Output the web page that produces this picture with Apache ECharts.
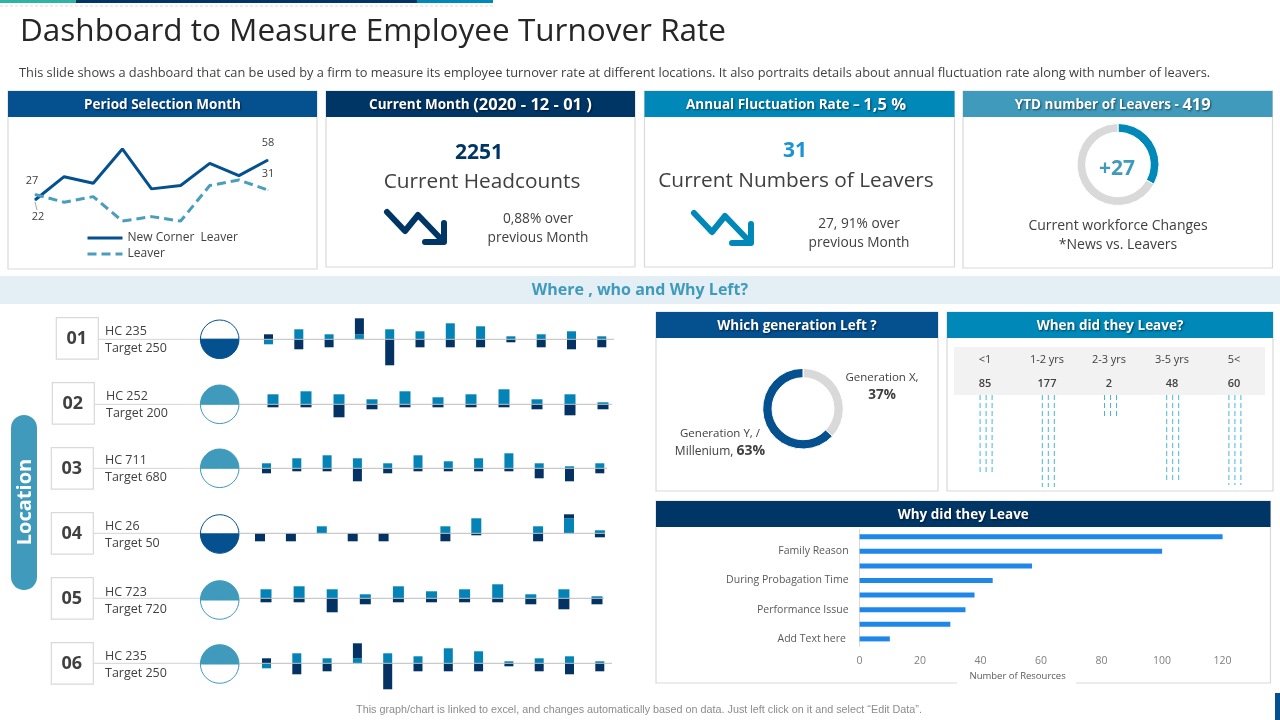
<!DOCTYPE html>
<html>
<head>
<meta charset="utf-8">
<style>
  html, body { margin: 0; padding: 0; background: #fff; }
  #main { width: 1280px; height: 720px; }
</style>
<script src="https://cdn.jsdelivr.net/npm/echarts@6/dist/echarts.min.js"></script>
</head>
<body>
<div id="main"></div>
<script>
// period line chart
const periodMonths = ['1', '2', '3', '4', '5', '6', '7', '8', '9'];
const newCornerLeaver = [22, 43, 37, 68, 32, 35, 55, 44, 58];
const leaver = [27, 20, 25, 3, 7, 3, 35, 40, 31];

// location rows, light = upper series, dark = lower series
const row1Light = [-5, 10, 5, 5, 10, 8, 16, 13, 3, 5, 8, 3];
const row1Dark = [5, -10, -8, 16, -26, -8, -8, -8, -3, -8, -10, -8];
const row2Light = [10, 13, 10, 5, 13, 7, 10, 15, 5, 10, 2];
const row2Dark = [-3, -3, -13, -5, -3, -3, -3, -3, -5, -11, -5];
const row3Light = [5, 10, 13, 10, 5, 13, 7, 10, 15, 5, 2, 5];
const row3Dark = [-5, -3, -3, -13, -5, -3, -3, -3, -3, -10, -13, -5];
const row4Light = [0, 0, 7, 0, 0, 0, 7, 15, 0, 7, 15, 3];
const row4Dark = [-8, -8, 0, -8, -8, 0, -8, -2, 0, -8, 4, -4];
const row5Light = [9, 12, 9, 4, 12, 7, 9, 14, 4, 9, 2];
const row5Dark = [-4, -4, -14, -6, -4, -4, -4, -4, -6, -11, -6];
const row6Light = [-5, 10, 5, 5, 10, 7, 15, 12, 2, 5, 7, 2];
const row6Dark = [5, -11, -8, 15, -26, -8, -8, -8, -3, -8, -11, -8];

const rowIds = ['01', '02', '03', '04', '05', '06'];
const rowHc = ['HC 235', 'HC 252', 'HC 711', 'HC 26', 'HC 723', 'HC 235'];
const rowTarget = ['Target 250', 'Target 200', 'Target 680', 'Target 50', 'Target 720', 'Target 250'];

// generation / ytd donuts
const genNames = ['Generation X', 'Generation Y, / Millenium'];
const genValues = [37, 63];
const ytdNames = ['Changes', 'Rest'];
const ytdValues = [33, 67];

// when did they leave
const whenCats = ['<1', '1-2 yrs', '2-3 yrs', '3-5 yrs', '5<'];
const whenCounts = ['85', '177', '2', '48', '60'];
const whenDepth = [77, 92, 23, 87, 90];

// why did they leave
const whyCats = ['', 'Family Reason', '', 'During Probagation Time', '', 'Performance Issue', '', 'Add Text here '];
const whyValues = [120, 100, 57, 44, 38, 35, 30, 10];

const FONT = '"Open Sans", "Noto Sans", sans-serif';
const C = { navy: '#003666', blue: '#05508F', cyan: '#0088B8', teal: '#3F9ABB', text: '#404040', border: '#D9D9D9' };

function txt(text, x, y, size, fill, weight, align, extra) {
  return {
    type: 'text', silent: true,
    style: Object.assign({
      text: text, x: x, y: y + 1.5, fontSize: size, fontFamily: FONT, fill: fill || C.text,
      fontWeight: weight || 'normal', textAlign: align || 'center', textVerticalAlign: 'middle'
    }, extra || {})
  };
}
function rect(x, y, w, h, fill, stroke, r) {
  return {
    type: 'rect', silent: true, shape: { x: x, y: y, width: w, height: h, r: r || 0 },
    style: { fill: fill || 'none', stroke: stroke || 'none', lineWidth: stroke ? 1.2 : 0 }
  };
}
function line(x1, y1, x2, y2, color, z) {
  return {
    type: 'line', silent: true, z: z || 0, shape: { x1: x1, y1: y1, x2: x2, y2: y2 },
    style: { stroke: color, lineWidth: 1 }
  };
}
const headShadow = { textShadowColor: 'rgba(0,0,0,0.55)', textShadowBlur: 2, textShadowOffsetX: 1, textShadowOffsetY: 1 };
const headRich = {
  a: { fontSize: 13.5, fontWeight: 'bold', fontFamily: FONT, fill: '#fff' },
  b: { fontSize: 16.5, fontWeight: 'bold', fontFamily: FONT, fill: '#fff' }
};
function panel(x, y, w, h, color, title, rich, shift) {
  const head = txt(title, x + w / 2 + (shift || 0), y + 12.5, 13.5, '#fff', 'bold', 'center', headShadow);
  if (rich) head.style.rich = rich;
  return [rect(x, y, w, h, '#fff', C.border), rect(x, y, w, 26, color), head];
}
function arrow(dx, dy, color) {
  const st = { fill: 'none', stroke: color, lineWidth: 6, lineCap: 'round', lineJoin: 'round' };
  return [
    { type: 'polyline', silent: true, shape: { points: [[387 + dx, 212 + dy], [405 + dx, 231 + dy], [418 + dx, 215 + dy], [442 + dx, 240 + dy]] }, style: st },
    { type: 'polyline', silent: true, shape: { points: [[425 + dx, 242 + dy], [444 + dx, 242 + dy], [444 + dx, 223 + dy]] }, style: st }
  ];
}

let g = [];
// top strips
g.push(rect(0, 0, 76, 3, '#2FB3A3'), rect(76, 0, 341, 3, C.navy), rect(417, 0, 76, 3, C.cyan));
g.push({ type: 'line', silent: true, shape: { x1: 0, y1: 6, x2: 493, y2: 6 }, style: { stroke: '#DDD', lineWidth: 1, lineDash: [3, 2] } });
g.push(txt('Dashboard to Measure Employee Turnover Rate', 20, 30.5, 31.5, '#262626', 'normal', 'left'));
g.push(txt('This slide shows a dashboard that can be used by a firm to measure its employee turnover rate at different locations. It also portraits details about annual fluctuation rate along with number of leavers.', 19, 72, 12.8, C.text, 'normal', 'left'));

// top panels
g.push(...panel(8, 91, 309, 178, C.blue, 'Period Selection Month'));
g.push(...panel(326, 91, 309, 176, C.navy, '{a|Current Month }{b|(2020 - 12 - 01 )}', headRich));
g.push(...panel(644.5, 91, 310, 176, C.cyan, '{a|Annual Fluctuation Rate – }{b|1,5 %}', headRich, -3.5));
g.push(...panel(963, 91, 309.5, 177, C.teal, '{a|YTD number of Leavers - }{b|419}', headRich, -5));

g.push(line(35, 202, 37, 210, '#A6A6A6'));
g.push(txt('2251', 479, 152, 21, C.navy, 'bold'));
g.push(txt('Current Headcounts', 482, 180.5, 20.8));
g.push(...arrow(0, 0, C.navy));
g.push(txt('0,88% over', 538, 218, 13.7));
g.push(txt('previous Month', 538, 237, 13.7));
g.push(txt('31', 795, 149.5, 21, '#1A94D0', 'bold'));
g.push(txt('Current Numbers of Leavers', 796, 180, 20.8));
g.push(...arrow(307, 1, C.cyan));
g.push(txt('27, 91% over', 859, 223, 13.7));
g.push(txt('previous Month', 859, 242, 13.7));
g.push(txt('+27', 1117, 168, 21, C.teal, 'bold'));
g.push(txt('Current workforce Changes', 1118, 225, 14));
g.push(txt('*News vs. Leavers', 1118, 244, 14));

// middle band
g.push(rect(0, 276, 1280, 28, '#E3EFF5'));
g.push(txt('Where , who and Why Left?', 640, 289, 16, C.teal, 'bold'));

// location pill
g.push(rect(11, 415, 26, 175, C.teal, null, 13));
const pill = txt('Location', 0, -1.5, 20, '#fff', 'bold', 'center');
pill.x = 25; pill.y = 502; pill.rotation = Math.PI / 2;
g.push(pill);

// bottom panels
g.push(...panel(656, 312, 282, 179, C.blue, 'Which generation Left ?'));
g.push(...panel(947, 312, 326, 179, C.cyan, 'When did they Leave?'));
g.push(...panel(656, 501, 614.5, 182, C.navy, 'Why did they Leave'));
g.push(rect(957, 678, 119, 8, '#fff'));

g.push(txt('Generation X,', 882, 376, 11.5));
g.push(txt('37%', 882, 394, 13.5, C.text, 'bold'));
g.push(txt('Generation Y, /', 720, 432, 11.5));
g.push(txt('{a|Millenium, }{b|63%}', 720, 450, 11.5, C.text, 'normal', 'center', {
  rich: { a: { fontSize: 12, fontFamily: FONT, fill: C.text }, b: { fontSize: 14, fontWeight: 'bold', fontFamily: FONT, fill: C.text } }
}));

g.push(rect(954, 347, 311, 48, '#F2F2F2'));
const whenTextX = [985, 1047, 1109, 1172, 1234];
whenCats.forEach((c, i) => {
  g.push(txt(c, whenTextX[i], 358, 11, C.text));
  g.push(txt(whenCounts[i], whenTextX[i], 382, 11, C.text, '600'));
});

g.push({ type: 'text', silent: true, style: { text: 'This graph/chart is linked to excel, and changes automatically based on data. Just left click on it and select “Edit Data”.', x: 639, y: 710, fontSize: 10.8, fontFamily: '"Liberation Sans", sans-serif', fill: '#8C8C8C', textAlign: 'center', textVerticalAlign: 'middle' } });
g.push(rect(1275, 693, 5, 27, C.blue));

// location rows
const rowLayout = [
  { lights: row1Light, darks: row1Dark, base: 339.3, c0: 268.5, step: 30.3, barW: 9, box: [56.3, 317.7], textX: 105, cy: 339.3, end: 614, fill: 'low' },
  { lights: row2Light, darks: row2Dark, base: 404.3, c0: 273, step: 33, barW: 11, box: [52.3, 382.7], textX: 106, cy: 404.3, end: 612, fill: 'high' },
  { lights: row3Light, darks: row3Dark, base: 468.3, c0: 266.5, step: 30.3, barW: 9, box: [51.3, 447.7], textX: 105, cy: 468.3, end: 607, fill: 'high' },
  { lights: row4Light, darks: row4Dark, base: 533.3, c0: 260, step: 30.9, barW: 10, box: [51.3, 512.7], textX: 105, cy: 534, end: 605, fill: 'low' },
  { lights: row5Light, darks: row5Dark, base: 598.3, c0: 266, step: 33.1, barW: 11, box: [51.3, 577.7], textX: 105, cy: 600, end: 604, fill: 'high' },
  { lights: row6Light, darks: row6Dark, base: 663.3, c0: 266.5, step: 30.3, barW: 9, box: [51.3, 642.7], textX: 105, cy: 664, end: 612, fill: 'high' }
];

const grid = [], xAxis = [], yAxis = [], series = [];

// grid 0: period line chart
grid.push({ left: 35, top: 146.7, width: 233, height: 77.7 });
xAxis.push({ type: 'category', gridIndex: 0, data: periodMonths, boundaryGap: false, show: false });
yAxis.push({ type: 'value', gridIndex: 0, min: 0, max: 70, show: false });
const endLabel = { show: true, position: 'top', fontSize: 11, fontFamily: FONT, color: C.text };
series.push({
  name: 'New Corner  Leaver', type: 'line', xAxisIndex: 0, yAxisIndex: 0,
  symbol: 'circle', symbolSize: 1, showAllSymbol: true,
  lineStyle: { color: C.blue, width: 3 }, itemStyle: { color: C.blue }, z: 3,
  data: newCornerLeaver.map((v, i) => {
    if (i === 0) return { value: v, label: Object.assign({}, endLabel, { position: 'bottom', distance: 11, offset: [3, 0] }) };
    if (i === newCornerLeaver.length - 1) return { value: v, label: Object.assign({}, endLabel, { distance: 11 }) };
    return v;
  })
});
series.push({
  name: 'Leaver', type: 'line', xAxisIndex: 0, yAxisIndex: 0,
  symbol: 'circle', symbolSize: 1, showAllSymbol: true,
  lineStyle: { color: '#4A9DBC', width: 3, type: [9, 5] }, itemStyle: { color: '#4A9DBC' },
  data: leaver.map((v, i) => {
    if (i === 0) return { value: v, label: Object.assign({}, endLabel, { distance: 8, offset: [-3, 0] }) };
    if (i === leaver.length - 1) return { value: v, label: Object.assign({}, endLabel, { distance: 10 }) };
    return v;
  })
});

// grids 1-6: location bars, 1 unit = 1 px
rowLayout.forEach((r, i) => {
  const idx = i + 1;
  const n = r.lights.length;
  grid.push({ left: r.c0 - r.step / 2, width: r.step * n, top: r.base - 40, height: 80 });
  xAxis.push({ type: 'category', gridIndex: idx, data: r.lights.map((v, k) => k + 1), show: false });
  yAxis.push({ type: 'value', gridIndex: idx, min: -40, max: 40, show: false });
  const st = 'row' + idx;
  series.push({ type: 'bar', xAxisIndex: idx, yAxisIndex: idx, stack: st, barWidth: r.barW, itemStyle: { color: '#0483B7' }, data: r.lights });
  series.push({ type: 'bar', xAxisIndex: idx, yAxisIndex: idx, stack: st, barWidth: r.barW, itemStyle: { color: '#033263' }, data: r.darks });

  // box, labels, baseline
  g.push(rect(r.box[0], r.box[1], 42, 41.5, '#fff', C.border));
  g.push(txt(rowIds[i], r.box[0] + 20.5, r.box[1] + 20, 18, C.text, 'bold'));
  g.push(txt(rowHc[i], r.textX, r.cy - 9.5, 12.5, C.text, 'normal', 'left'));
  g.push(txt(rowTarget[i], r.textX, r.cy + 7.5, 12.5, C.text, 'normal', 'left'));
  g.push(line(r.box[0] + 42, r.base, 201, r.base, '#D4D4D4'));
  g.push(line(239, r.base, r.end, r.base, '#BDBDBD', 10));

  // half filled circle
  const fillColor = r.fill === 'low' ? C.blue : C.teal;
  series.push({
    type: 'pie', center: [219.7, r.cy], radius: [0, 19.3], startAngle: 180, silent: true,
    label: { show: false }, labelLine: { show: false },
    itemStyle: { borderColor: fillColor, borderWidth: 1 },
    data: [
      { value: 50, itemStyle: { color: r.fill === 'low' ? '#fff' : fillColor } },
      { value: 50, itemStyle: { color: r.fill === 'low' ? fillColor : '#fff' } }
    ]
  });
});

// donuts
series.push({
  type: 'pie', center: [803, 408.7], radius: [31, 40.3], startAngle: 90, silent: true,
  label: { show: false }, labelLine: { show: false }, itemStyle: { borderColor: '#fff', borderWidth: 1 },
  color: ['#D9D9D9', C.blue],
  data: genNames.map((n, i) => ({ name: n, value: genValues[i] }))
});
series.push({
  type: 'pie', center: [1118, 164.5], radius: [32.3, 41], startAngle: 90, silent: true,
  label: { show: false }, labelLine: { show: false }, itemStyle: { borderColor: '#fff', borderWidth: 1 },
  color: [C.cyan, '#D9D9D9'],
  data: ytdNames.map((n, i) => ({ name: n, value: ytdValues[i] }))
});

// grid 7: when did they leave, dashed columns hang from the band
grid.push({ left: 955, top: 395, width: 311, height: 100 });
xAxis.push({ type: 'category', gridIndex: 7, data: whenCats, show: false });
yAxis.push({ type: 'value', gridIndex: 7, inverse: true, min: 0, max: 100, show: false });
series.push({
  type: 'custom', xAxisIndex: 7, yAxisIndex: 7, silent: true,
  data: whenDepth.map((v, i) => [i, v]),
  encode: { x: 0, y: 1 },
  renderItem: function (params, api) {
    const top = api.coord([api.value(0), 0]);
    const bot = api.coord([api.value(0), api.value(1)]);
    return {
      type: 'group',
      children: [-6, 0, 6].map(dx => ({
        type: 'line',
        shape: { x1: top[0] + dx, y1: top[1], x2: bot[0] + dx, y2: bot[1] },
        style: { stroke: '#45B8D5', lineWidth: 1, lineDash: [5, 3] }
      }))
    };
  }
});

// grid 8: why did they leave
grid.push({ left: 859.6, top: 529.4, width: 363, height: 116.8 });
xAxis.push({
  type: 'value', gridIndex: 8, min: 0, max: 120, interval: 20,
  axisLine: { show: false }, axisTick: { show: false }, splitLine: { show: false },
  axisLabel: { color: '#7F7F7F', fontSize: 10.5, fontFamily: FONT, margin: 9 },
  name: 'Number of Resources', nameLocation: 'middle', nameGap: 25,
  nameTextStyle: { color: '#595959', fontSize: 9.5, fontFamily: FONT, padding: [0, 47, 0, 0] }
});
yAxis.push({
  type: 'category', gridIndex: 8, data: whyCats, inverse: true,
  axisLine: { lineStyle: { color: '#D9D9D9' } }, axisTick: { show: false },
  axisLabel: { interval: 0, color: '#595959', fontSize: 10.5, fontFamily: FONT, margin: 11 }
});
series.push({
  type: 'bar', xAxisIndex: 8, yAxisIndex: 8, barWidth: 5,
  itemStyle: { color: '#1E87E8' }, data: whyValues
});

const chart = echarts.init(document.getElementById('main'));
chart.setOption({
  animation: false,
  backgroundColor: '#fff',
  graphic: { elements: g },
  legend: {
    data: ['New Corner  Leaver', 'Leaver'], orient: 'vertical', left: 86, top: 232,
    padding: 0, itemWidth: 35, itemHeight: 14, itemGap: 4, selectedMode: false,
    itemStyle: { opacity: 0 }, lineStyle: { width: 3 },
    textStyle: { fontSize: 12, fontFamily: FONT, color: C.text }
  },
  grid: grid,
  xAxis: xAxis,
  yAxis: yAxis,
  series: series
});
</script>
</body>
</html>
